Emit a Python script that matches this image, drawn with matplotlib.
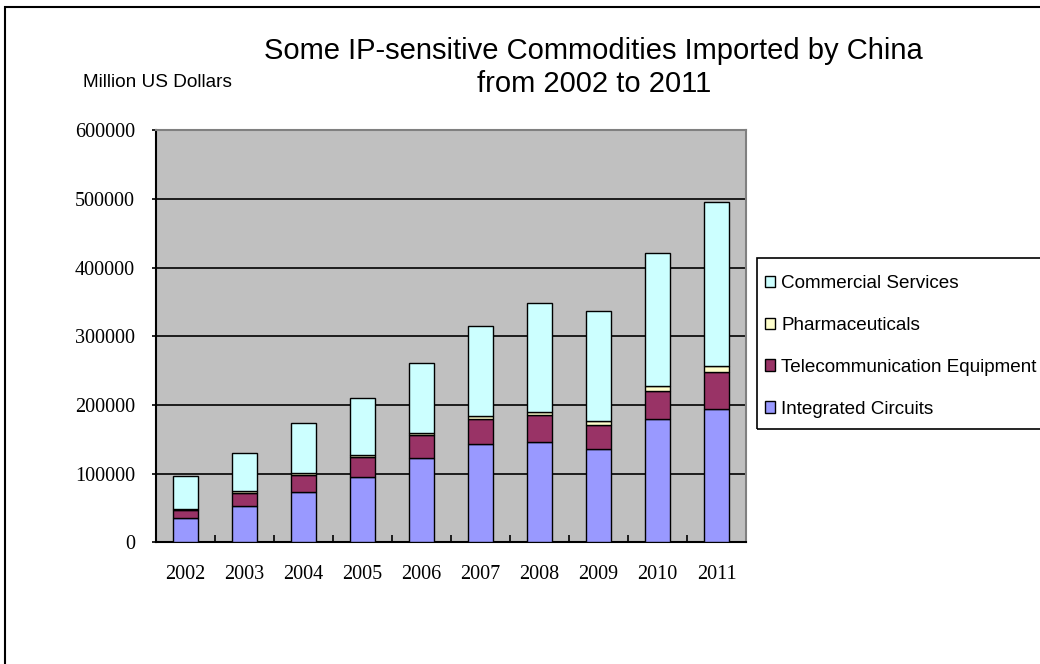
import matplotlib
matplotlib.use('Agg')
import matplotlib.pyplot as plt
from matplotlib.patches import Patch, Rectangle
import numpy as np

# Valores em milhões de dólares (EUA)
anos = ['2002', '2003', '2004', '2005', '2006', '2007', '2008', '2009', '2010', '2011']
circuitos = [36000, 52700, 74100, 96000, 122500, 143600, 146100, 136300, 179900, 194500]
telecom = [11000, 19500, 24200, 28900, 33900, 35900, 38800, 34000, 40700, 52900]
farmaceuticos = [2000, 2500, 3000, 3000, 3500, 5000, 5500, 7000, 7500, 9500]
servicos = [47300, 56100, 72600, 81800, 100700, 131200, 158200, 159700, 193700, 239000]

series = [
    ('Integrated Circuits', circuitos, '#9999FF'),
    ('Telecommunication Equipment', telecom, '#993366'),
    ('Pharmaceuticals', farmaceuticos, '#FFFFCC'),
    ('Commercial Services', servicos, '#CCFFFF'),
]

W, H = 1040, 664
fig = plt.figure(figsize=(W / 100, H / 100), dpi=100)
ax = fig.add_axes([0.15, 0.183, 0.5673, 0.621])
ax.set_facecolor('#C0C0C0')

x = np.arange(len(anos))
base = np.zeros(len(anos))
for nome, vals, cor in series:
    ax.bar(x, vals, width=0.41, bottom=base, color=cor,
           edgecolor='black', linewidth=1, zorder=3)
    base += np.array(vals)

ax.set_xlim(-0.5, len(anos) - 0.5)
ax.set_ylim(0, 600000)
ax.set_yticks(range(0, 600001, 100000))
ax.yaxis.grid(True, color='black', linewidth=1.2, zorder=1)

ax.set_xticks(x)
ax.set_xticklabels(anos, family='Liberation Serif', fontsize=14.5)
ax.tick_params(axis='x', length=0, pad=16)
ax.set_xticks(np.arange(-0.5, len(anos), 1.0), minor=True)
ax.tick_params(axis='x', which='minor', direction='in', length=5, width=1.2)
ax.tick_params(axis='y', length=3, width=1.2, pad=12)
for lab in ax.get_yticklabels():
    lab.set_family('Liberation Serif')
    lab.set_fontsize(14.5)

for lado in ['left', 'bottom']:
    ax.spines[lado].set_linewidth(1.5)
for lado in ['top', 'right']:
    ax.spines[lado].set_color('#808080')
    ax.spines[lado].set_linewidth(1.5)

fig.text(0.571, 0.898, 'Some IP-sensitive Commodities Imported by China\nfrom 2002 to 2011',
         ha='center', va='center', fontsize=21, family='Liberation Sans', linespacing=1.22)
fig.text(0.08, 0.876, 'Million US Dollars', ha='left', va='center',
         fontsize=13.7, family='Liberation Sans')

# legenda sem moldura própria; a caixa é desenhada à parte
handles = [Patch(facecolor=cor, edgecolor='black', linewidth=1) for _, _, cor in series][::-1]
labels = [nome for nome, _, _ in series][::-1]
fig.legend(handles, labels, loc='upper left', bbox_to_anchor=(765 / W, 1 - 275 / H),
           frameon=False, prop={'family': 'Liberation Sans', 'size': 13.6},
           handlelength=0.55, handleheight=0.55, handletextpad=0.3,
           labelspacing=1.32, borderpad=0, borderaxespad=0)
fig.patches.append(Rectangle((757 / W, 1 - 429 / H), 0.3, 171 / H,
                             transform=fig.transFigure, fill=False,
                             edgecolor='black', linewidth=1.2))

# moldura em volta da figura
fig.patches.append(Rectangle((5 / W, -0.1), 1.2, 1 - 7 / H + 0.1,
                             transform=fig.transFigure, fill=False,
                             edgecolor='black', linewidth=1.5))

fig.savefig('out.png', dpi=100)
